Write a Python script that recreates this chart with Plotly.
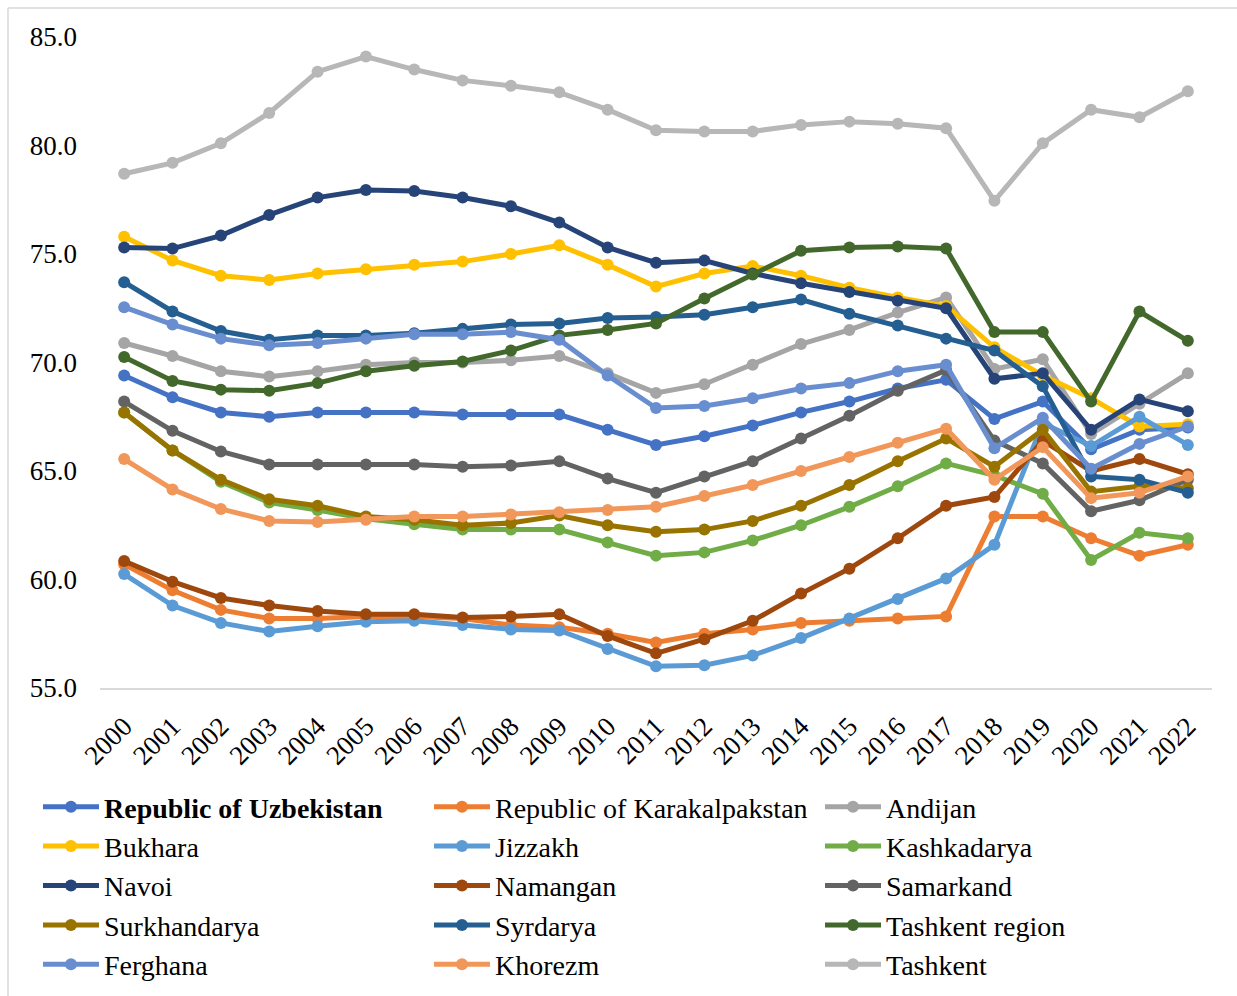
import plotly.graph_objects as go

# Life expectancy at birth by region, 2000-2022
years = [str(y) for y in range(2000, 2023)]

uzbekistan = [69.4, 68.4, 67.7, 67.5, 67.7, 67.7, 67.7, 67.6, 67.6, 67.6, 66.9, 66.2,
              66.6, 67.1, 67.7, 68.2, 68.8, 69.2, 67.4, 68.2, 66.0, 66.9, 67.0]
karakalpakstan = [60.7, 59.5, 58.6, 58.2, 58.2, 58.3, 58.3, 58.2, 57.9, 57.8, 57.5, 57.1,
                  57.5, 57.7, 58.0, 58.1, 58.2, 58.3, 62.9, 62.9, 61.9, 61.1, 61.6]
andijan = [70.9, 70.3, 69.6, 69.35, 69.6, 69.9, 70.0, 70.0, 70.1, 70.3, 69.5, 68.6,
           69.0, 69.9, 70.85, 71.5, 72.3, 73.0, 69.7, 70.15, 66.7, 68.1, 69.5]
bukhara = [75.8, 74.7, 74.0, 73.8, 74.1, 74.3, 74.5, 74.65, 75.0, 75.4, 74.5, 73.5,
           74.1, 74.45, 74.0, 73.45, 73.0, 72.6, 70.7, 69.4, 68.35, 67.05, 67.15]
jizzakh = [60.25, 58.8, 58.0, 57.6, 57.85, 58.05, 58.1, 57.9, 57.7, 57.65, 56.8, 56.0,
           56.05, 56.5, 57.3, 58.2, 59.1, 60.05, 61.6, 67.2, 66.15, 67.5, 66.2]
kashkadarya = [67.7, 65.95, 64.5, 63.55, 63.2, 62.8, 62.55, 62.3, 62.3, 62.3, 61.7, 61.1,
               61.25, 61.8, 62.5, 63.35, 64.3, 65.35, 64.8, 63.95, 60.9, 62.15, 61.9]
navoi = [75.3, 75.25, 75.85, 76.8, 77.6, 77.95, 77.9, 77.6, 77.2, 76.45, 75.3, 74.6,
         74.7, 74.1, 73.65, 73.25, 72.85, 72.5, 69.25, 69.5, 66.9, 68.3, 67.75]
namangan = [60.85, 59.9, 59.15, 58.8, 58.55, 58.4, 58.4, 58.25, 58.3, 58.4, 57.4, 56.6,
            57.25, 58.1, 59.35, 60.5, 61.9, 63.4, 63.8, 66.4, 65.0, 65.55, 64.85]
samarkand = [68.2, 66.85, 65.9, 65.3, 65.3, 65.3, 65.3, 65.2, 65.25, 65.45, 64.65, 64.0,
             64.75, 65.45, 66.5, 67.55, 68.7, 69.65, 66.4, 65.35, 63.15, 63.65, 64.6]
surkhandarya = [67.7, 65.95, 64.6, 63.7, 63.4, 62.9, 62.75, 62.5, 62.6, 62.95, 62.5, 62.2,
                62.3, 62.7, 63.4, 64.35, 65.45, 66.5, 65.2, 66.9, 64.05, 64.3, 64.2]
syrdarya = [73.7, 72.35, 71.45, 71.05, 71.25, 71.25, 71.35, 71.55, 71.75, 71.8, 72.05, 72.1,
            72.2, 72.55, 72.9, 72.25, 71.7, 71.1, 70.55, 68.9, 64.75, 64.6, 64.0]
tashkent_region = [70.25, 69.15, 68.75, 68.7, 69.05, 69.6, 69.85, 70.05, 70.55, 71.25, 71.5, 71.8,
                   72.95, 74.05, 75.15, 75.3, 75.35, 75.25, 71.4, 71.4, 68.2, 72.35, 71.0]
ferghana = [72.55, 71.75, 71.1, 70.8, 70.9, 71.1, 71.3, 71.3, 71.4, 71.05, 69.4, 67.9,
            68.0, 68.35, 68.8, 69.05, 69.6, 69.9, 66.05, 67.45, 65.1, 66.25, 67.05]
khorezm = [65.55, 64.15, 63.25, 62.7, 62.65, 62.75, 62.9, 62.9, 63.0, 63.1, 63.2, 63.35,
           63.85, 64.35, 65.0, 65.65, 66.3, 66.95, 64.6, 66.1, 63.75, 64.0, 64.75]
tashkent = [78.7, 79.2, 80.1, 81.5, 83.4, 84.1, 83.5, 83.0, 82.75, 82.45, 81.65, 80.7,
            80.65, 80.65, 80.95, 81.1, 81.0, 80.8, 77.45, 80.1, 81.65, 81.3, 82.5]

series = [
    ("<b>Republic of Uzbekistan</b>", uzbekistan, "#4472C4"),
    ("Republic of Karakalpakstan", karakalpakstan, "#ED7D31"),
    ("Andijan", andijan, "#A5A5A5"),
    ("Bukhara", bukhara, "#FFC000"),
    ("Jizzakh", jizzakh, "#5B9BD5"),
    ("Kashkadarya", kashkadarya, "#70AD47"),
    ("Navoi", navoi, "#264478"),
    ("Namangan", namangan, "#9E480E"),
    ("Samarkand", samarkand, "#636363"),
    ("Surkhandarya", surkhandarya, "#997300"),
    ("Syrdarya", syrdarya, "#255E91"),
    ("Tashkent region", tashkent_region, "#43682B"),
    ("Ferghana", ferghana, "#698ED0"),
    ("Khorezm", khorezm, "#F1975A"),
    ("Tashkent", tashkent, "#B7B7B7"),
]

FONT = "Liberation Serif, Times New Roman, serif"

fig = go.Figure()
for name, values, color in series:
    fig.add_trace(go.Scatter(
        x=years, y=values, name=name, mode="lines+markers",
        line=dict(color=color, width=5),
        marker=dict(color=color, size=12, symbol="circle"),
    ))

W, H = 1237, 996
L, R, T, B = 100, 25, 37, 308
pw, ph = W - L - R, H - T - B


def px_x(x):
    return (x - L) / pw


def px_y(y):
    return (H - B - y) / ph


# chart-area frame (left and top edges)
frame = dict(type="line", xref="paper", yref="paper",
             line=dict(color="#D9D9D9", width=1.5))
fig.add_shape(**frame, x0=px_x(8), x1=px_x(8), y0=px_y(8), y1=px_y(1000))
fig.add_shape(**frame, x0=px_x(8), x1=px_x(1240), y0=px_y(8), y1=px_y(8))

fig.update_layout(
    width=W, height=H,
    margin=dict(l=L, r=R, t=T, b=B, autoexpand=False),
    paper_bgcolor="white", plot_bgcolor="white",
    font=dict(family=FONT, size=28, color="black"),
    showlegend=True,
    legend=dict(
        orientation="h", x=px_x(38), y=px_y(782), xanchor="left", yanchor="top",
        font=dict(family=FONT, size=28, color="black"),
        itemwidth=56, entrywidth=320, entrywidthmode="pixels",
        tracegroupgap=0, traceorder="normal",
    ),
)
fig.update_xaxes(
    type="category", range=[-0.5, len(years) - 0.5], tickangle=-45,
    showgrid=False, ticks="", automargin=False,
    showline=True, linecolor="#D9D9D9", linewidth=1.5,
    tickfont=dict(family=FONT, size=27, color="black"),
    ticklabelstandoff=10,
)
fig.update_yaxes(
    range=[55, 85], dtick=5, tickformat=".1f", showgrid=False, zeroline=False,
    showline=False, ticks="", automargin=False,
    tickfont=dict(family=FONT, size=27, color="black"),
    ticklabelstandoff=22,
)

fig.write_html("out.html")
